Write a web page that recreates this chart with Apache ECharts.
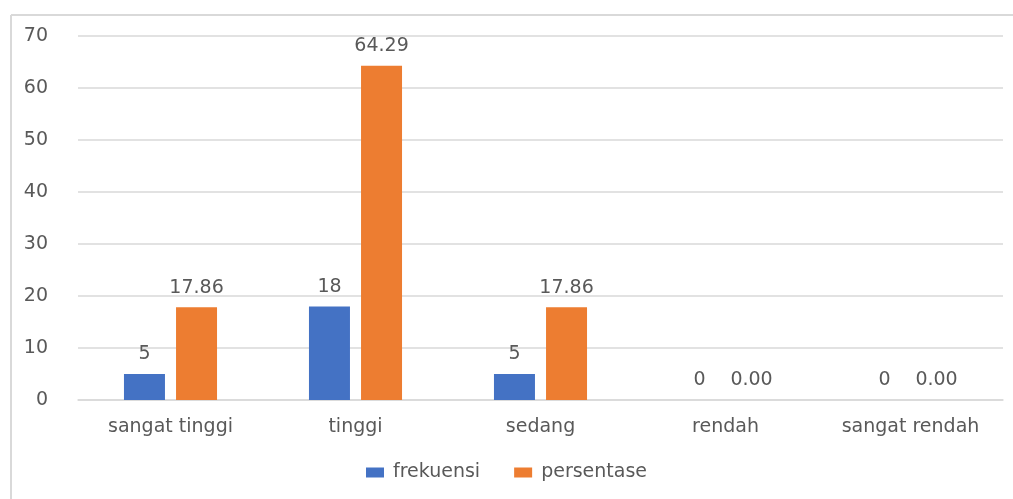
<!DOCTYPE html>
<html>
<head>
<meta charset="utf-8">
<style>
  html, body { margin: 0; padding: 0; background: #fff; }
  #demo { width: 1013px; height: 499px; }
</style>
<script src="https://cdn.jsdelivr.net/npm/echarts@6/dist/echarts.min.js"></script>
</head>
<body>
<div id="demo"></div>
<script>
var categories = ['sangat tinggi', 'tinggi', 'sedang', 'rendah', 'sangat rendah'];
var frekuensi = [5, 18, 5, 0, 0];
var persentase = [17.86, 64.29, 17.86, 0.00, 0.00];

window.onload = function() {
    var textColor = '#595959';
    var font = 'DejaVu Sans';
    var fs = 19;
    var option = {
        color: ['#4472C4', '#ED7D31'],
        textStyle: { fontFamily: font },
        graphic: [
            // chart area frame (left and top edges)
            { type: 'line', shape: { x1: 11, y1: 15, x2: 1013, y2: 15 }, style: { stroke: '#d9d9d9', lineWidth: 2 } },
            { type: 'line', shape: { x1: 11, y1: 15, x2: 11, y2: 499 }, style: { stroke: '#d9d9d9', lineWidth: 2 } }
        ],
        grid: {
            left: 78,
            right: 10,
            top: 36,
            bottom: 99
        },
        legend: {
            bottom: 12,
            left: 'center',
            itemWidth: 18,
            itemHeight: 10,
            itemGap: 34,
            icon: 'rect',
            textStyle: { color: textColor, fontSize: fs, fontFamily: font, padding: [0, 0, 0, 4] },
            data: ['frekuensi', 'persentase']
        },
        xAxis: [{
            type: 'category',
            data: categories,
            axisLine: { lineStyle: { color: '#d9d9d9', width: 1.5 } },
            axisTick: { show: false },
            axisLabel: { color: textColor, fontSize: fs, margin: 18, fontFamily: font }
        }],
        yAxis: [{
            type: 'value',
            min: 0,
            max: 70,
            interval: 10,
            axisLine: { show: false },
            axisTick: { show: false },
            axisLabel: { color: textColor, fontSize: fs, margin: 30, fontFamily: font },
            splitLine: { lineStyle: { color: '#d9d9d9', width: 1.5 } }
        }],
        series: [{
            name: 'frekuensi',
            type: 'bar',
            barWidth: 41,
            barGap: '27%',
            data: frekuensi,
            label: {
                show: true,
                position: 'top',
                distance: 10,
                color: textColor,
                fontSize: fs,
                fontFamily: font
            }
        }, {
            name: 'persentase',
            type: 'bar',
            barWidth: 41,
            data: persentase,
            label: {
                show: true,
                position: 'top',
                distance: 10,
                color: textColor,
                fontSize: fs,
                fontFamily: font,
                formatter: function(p) { return p.value.toFixed(2); }
            }
        }]
    };
    var myCharts = echarts.init(document.getElementById('demo'));
    myCharts.setOption(option);
};
</script>
</body>
</html>
